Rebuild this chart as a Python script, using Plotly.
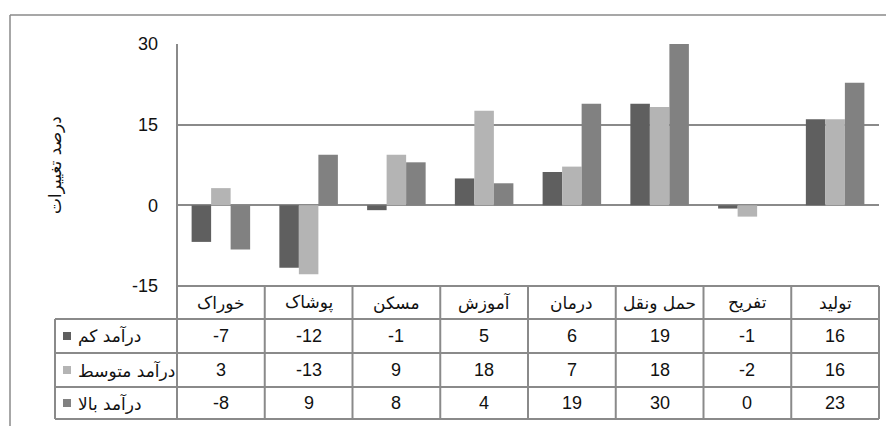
import plotly.graph_objects as go

categories = ["خوراک", "پوشاک", "مسکن", "آموزش", "درمان", "حمل ونقل", "تفریح", "تولید"]
series_names = ["درآمد کم", "درآمد متوسط", "درآمد بالا"]
low_income = [-6.8, -11.6, -0.9, 5.0, 6.2, 18.9, -0.6, 16.0]
mid_income = [3.2, -12.8, 9.4, 17.6, 7.2, 18.3, -2.1, 16.0]
high_income = [-8.2, 9.4, 8.0, 4.1, 18.9, 30.0, 0.0, 22.8]
y_ticks = [-15, 0, 15, 30]
y_tick_labels = ["-15", "0", "15", "30"]
y_title = "درصد تغییرات"

series_values = [low_income, mid_income, high_income]
colors = ["#5f5f5f", "#b4b4b4", "#818181"]

OFF = 8  # page body margin
W, H = 894, 426
# plot area in screen pixels: x 177..879, y 44..286
L, T = 177 - OFF, 44 - OFF
PW, PH = 702, 242
R = W - L - PW
B = H - T - PH
GRID = "#8a8a8a"
NUM_FONT = "Liberation Sans, Arial, sans-serif"
FA_FONT = "DejaVu Sans, sans-serif"


def px(x):
    return (x - 177) / PW


def py(y):
    return (286 - y) / PH


fig = go.Figure()
x_idx = list(range(len(categories)))
for name, vals, col in zip(series_names, series_values, colors):
    fig.add_trace(go.Bar(x=x_idx, y=vals, name=name, marker=dict(color=col, line=dict(width=0)),
                         showlegend=False, hoverinfo="skip"))

shapes = []
annotations = []
line = dict(color=GRID, width=2)

row_lines = [286, 319, 353, 387, 419]
shapes.append(dict(type="line", xref="paper", yref="paper", x0=px(177), x1=px(879),
                   y0=py(row_lines[0]), y1=py(row_lines[0]), line=line))
for yl in row_lines[1:]:
    shapes.append(dict(type="line", xref="paper", yref="paper", x0=px(55), x1=px(879),
                       y0=py(yl), y1=py(yl), line=line))
for i in range(len(categories) - 1):
    shapes.append(dict(type="line", xref="x", yref="paper", x0=i + 0.5, x1=i + 0.5,
                       y0=py(row_lines[0]), y1=py(row_lines[-1]), line=line))
shapes.append(dict(type="line", xref="paper", yref="paper", x0=px(177), x1=px(177),
                   y0=1, y1=py(row_lines[-1]), line=line))
shapes.append(dict(type="line", xref="paper", yref="paper", x0=px(879), x1=px(879),
                   y0=py(row_lines[0]), y1=py(row_lines[-1]), line=line))
shapes.append(dict(type="line", xref="paper", yref="paper", x0=px(55), x1=px(55),
                   y0=py(row_lines[1]), y1=py(row_lines[-1]), line=line))
shapes.append(dict(type="line", xref="paper", yref="paper", x0=px(10), x1=px(910),
                   y0=py(15), y1=py(15), line=dict(color=GRID, width=1.5)))
shapes.append(dict(type="line", xref="paper", yref="paper", x0=px(10), x1=px(10),
                   y0=py(15), y1=py(440), line=dict(color=GRID, width=1.5)))

hc = (row_lines[0] + row_lines[1]) / 2
for i, c in enumerate(categories):
    annotations.append(dict(x=i, y=py(hc), xref="x", yref="paper", text=c, showarrow=False,
                            font=dict(family=FA_FONT, size=17, color="#111"), yanchor="middle"))
for r, (name, vals, col) in enumerate(zip(series_names, series_values, colors)):
    yc = (row_lines[r + 1] + row_lines[r + 2]) / 2
    for i, v in enumerate(vals):
        annotations.append(dict(x=i, y=py(yc), xref="x", yref="paper", text=f"{v:.0f}",
                                showarrow=False, font=dict(family=NUM_FONT, size=18, color="#111"),
                                yanchor="middle"))
    annotations.append(dict(x=px(76), y=py(yc), xref="paper", yref="paper", text=name,
                            showarrow=False, xanchor="left", yanchor="middle",
                            font=dict(family=FA_FONT, size=17, color="#111")))
    shapes.append(dict(type="rect", xref="paper", yref="paper", x0=px(63), x1=px(71),
                       y0=py(yc - 4), y1=py(yc + 4), fillcolor=col, line=dict(width=0)))

annotations.append(dict(x=px(55), y=0.5, xref="paper", yref="paper", text=y_title, textangle=-90,
                        showarrow=False, xanchor="center", yanchor="middle",
                        font=dict(family=FA_FONT, size=17, color="#111")))

fig.update_layout(
    width=W, height=H,
    margin=dict(l=L, r=R, t=T, b=B),
    paper_bgcolor="white", plot_bgcolor="white",
    barmode="group", bargap=0.333, bargroupgap=0,
    xaxis=dict(range=[-0.5, len(categories) - 0.5], showticklabels=False, showgrid=False,
               zeroline=False, showline=False, fixedrange=True),
    yaxis=dict(range=[y_ticks[0], y_ticks[-1]], tickvals=y_ticks, ticktext=y_tick_labels,
               showgrid=True, gridcolor=GRID, gridwidth=2, zeroline=True, zerolinecolor=GRID,
               zerolinewidth=2, showline=False, ticks="", ticklabelstandoff=18,
               tickfont=dict(family=NUM_FONT, size=18, color="#111")),
    shapes=shapes, annotations=annotations,
)

fig.write_html("out.html")
